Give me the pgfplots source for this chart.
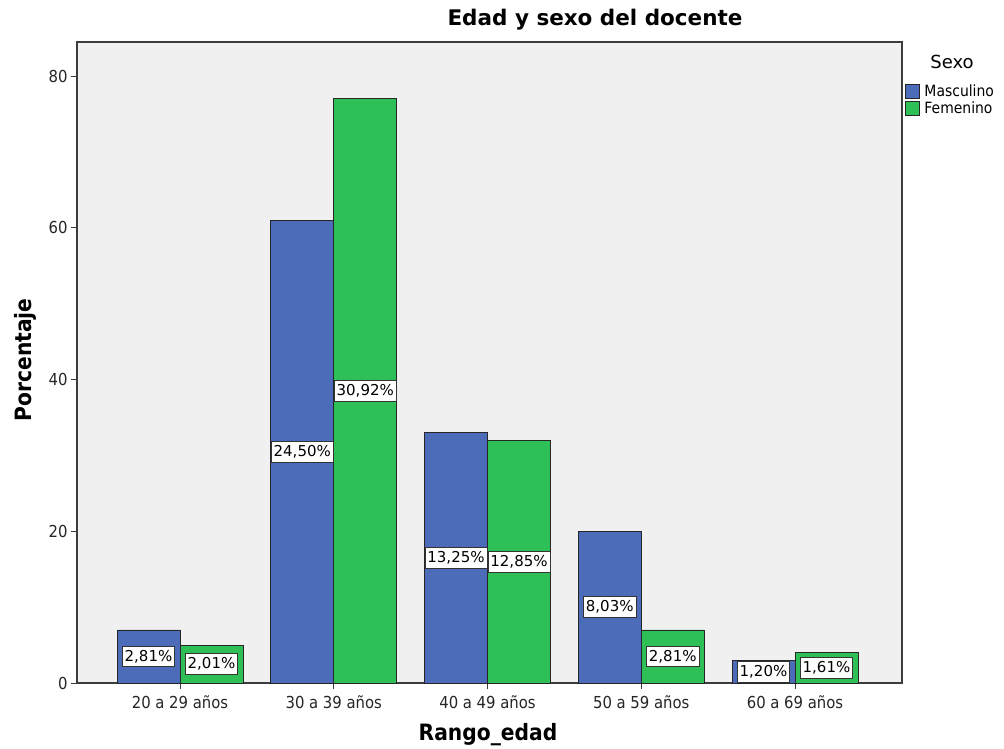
\documentclass[border=0pt]{standalone}
\usepackage{pgfplots}
\pgfplotsset{compat=1.18}
\usepackage{fontspec}
\setmainfont{DejaVu Sans}
\newfontfamily\condfont{DejaVu Sans Condensed}
\definecolor{masc}{RGB}{76,107,185}
\definecolor{fem}{RGB}{46,191,86}
\definecolor{plotbg}{RGB}{240,240,240}
\definecolor{frame}{RGB}{60,60,60}

\begin{document}
\begin{tikzpicture}[x=1pt,y=1pt]
\path[use as bounding box] (0,0) rectangle (1004,748);
\begin{axis}[
  at={(77pt,65pt)}, anchor=south west,
  scale only axis, width=825pt, height=641pt,
  xmin=-0.67, xmax=4.696, ymin=0, ymax=84.5,
  axis background/.style={fill=plotbg},
  axis line style={frame, line width=1.2pt},
  ybar=0pt, bar width=63pt,
  xtick={0,1,2,3,4},
  xticklabels={20 a 29 años, 30 a 39 años, 40 a 49 años, 50 a 59 años, 60 a 69 años},
  ytick={0,20,40,60,80},
  tick align=outside, tick pos=left, major tick length=6pt,
  tick style={frame, line width=1pt},
  /pgf/number format/assume math mode=true,
  ticklabel style={font=\condfont\fontsize{16.5}{16.5}\selectfont, text=black!85},
  xticklabel style={yshift=-3pt},
  point meta=explicit,
  visualization depends on={rawy \as \rawy},
  nodes near coords={\pgfmathprintnumber[fixed,fixed zerofill,precision=2,use comma]{\pgfplotspointmeta}\%},
  every node near coord/.append style={anchor=center, shift={(axis direction cs:0,-\rawy/2)},
    fill=white, draw=black!80, line width=0.8pt, inner xsep=2.5pt, inner ysep=4pt,
    font=\fontsize{15}{15}\selectfont, text=black},
  legend style={at={(1.003,0.936)}, anchor=north west, draw=none, fill=none,
    inner sep=0pt, row sep=-1pt, font=\condfont\fontsize{15.5}{15.5}\selectfont,
    /tikz/every odd column/.append style={column sep=3pt}},
  legend cell align=left,
  legend image code/.code={\draw[#1, draw=black!85, line width=0.8pt] (0pt,-7pt) rectangle (14pt,7pt);},
]
\addplot[fill=masc, draw=black!85, line width=0.8pt] coordinates {
  (0,7) [2.81] (1,61) [24.50] (2,33) [13.25] (3,20) [8.03] (4,3) [1.20]};
\addlegendentry{Masculino}
\addplot[fill=fem, draw=black!85, line width=0.8pt] coordinates {
  (0,5) [2.01] (1,77) [30.92] (2,32) [12.85] (3,7) [2.81] (4,4) [1.61]};
\addlegendentry{Femenino}
\end{axis}
\node at (595,728) {\fontsize{21.5}{21.5}\selectfont\bfseries Edad y sexo del docente};
\node[rotate=90] at (25,388) {\condfont\fontsize{22.5}{22.5}\selectfont\bfseries Porcentaje};
\node at (488,13) {\condfont\fontsize{22.5}{22.5}\selectfont\bfseries Rango\_edad};
\node at (952,686) {\fontsize{18}{18}\selectfont Sexo};
\end{tikzpicture}
\end{document}
